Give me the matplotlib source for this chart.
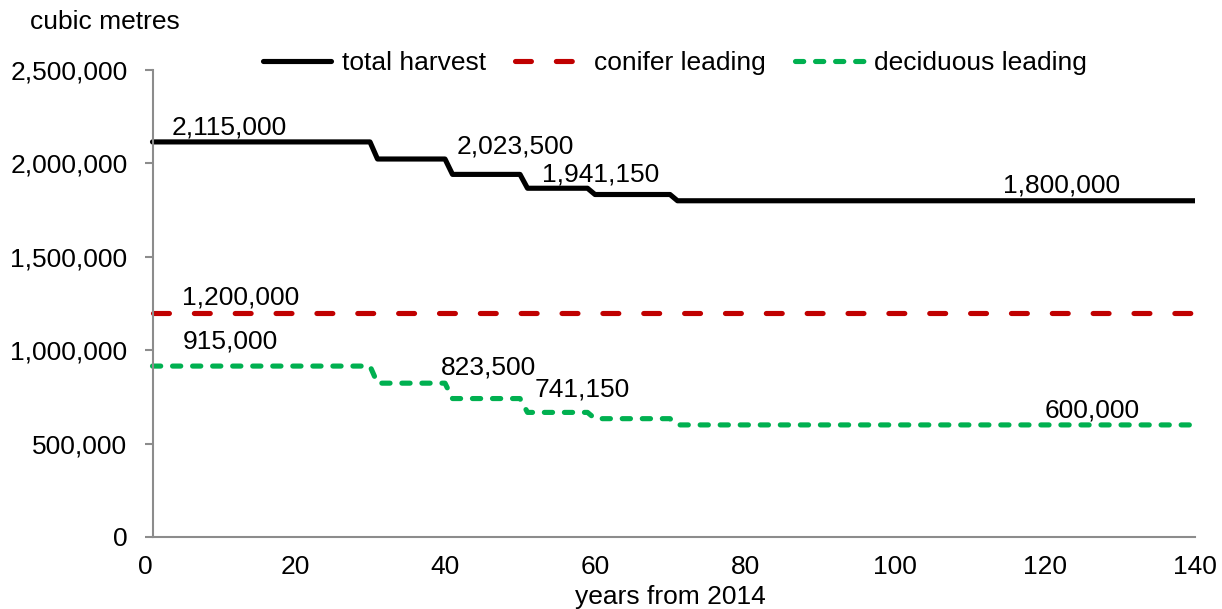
import numpy as np
import matplotlib
matplotlib.use("Agg")
import matplotlib.pyplot as plt
from matplotlib.ticker import FuncFormatter, MultipleLocator

plt.rcParams['font.family'] = ['Liberation Sans', 'DejaVu Sans']

# Annual harvest levels by period (cubic metres)
period_lengths = [30, 10, 10, 9, 11, 70]          # years in each period
total_levels = [2115000, 2023500, 1941150, 1867000, 1833500, 1800000]
conifer_levels = [1200000, 1200000, 1200000, 1200000, 1200000, 1200000]
deciduous_levels = [915000, 823500, 741150, 667000, 633500, 600000]

years = np.arange(1, sum(period_lengths) + 1)
total = np.repeat(total_levels, period_lengths)
conifer = np.repeat(conifer_levels, period_lengths)
deciduous = np.repeat(deciduous_levels, period_lengths)

# value labels: (levels, period index, x of label's left edge, vertical offset px)
label_specs = [
    (total_levels, 0, 3.6, 14),
    (total_levels, 1, 41.6, 13),
    (total_levels, 2, 53.0, 0),
    (total_levels, 5, 114.4, 15),
    (conifer_levels, 0, 4.9, 15),
    (deciduous_levels, 0, 5.1, 25),
    (deciduous_levels, 1, 39.5, 16),
    (deciduous_levels, 2, 52.0, 9),
    (deciduous_levels, 5, 120.0, 14),
]

W, H = 1222, 609
fig = plt.figure(figsize=(W / 100, H / 100), dpi=100)
ax = fig.add_axes([145 / W, (H - 537) / H, 1050 / W, 467 / H])

BLACK = '#000000'
RED = '#C00000'
GREEN = '#00B050'
AXIS_GREY = '#8C8C8C'
FS = 19

lw = 3.7
ax.plot(years, total, color=BLACK, lw=lw, solid_capstyle='round',
        solid_joinstyle='round', label='total harvest')
ax.plot(years, conifer, color=RED, lw=lw, dash_capstyle='round',
        dashes=(3.1, 4.85), label='conifer leading')
ax.plot(years, deciduous, color=GREEN, lw=lw, dash_capstyle='round',
        dash_joinstyle='round', dashes=(1.6, 2.3), label='deciduous leading')

for levels, idx, xleft, dy in label_specs:
    val = levels[idx]
    ax.annotate(f"{val:,}", xy=(xleft, val), xytext=(0, dy),
                textcoords='offset pixels', ha='left', va='center',
                fontsize=FS, color='black')

ax.set_xlim(0, 140)
ax.set_ylim(0, 2500000)
ax.xaxis.set_major_locator(MultipleLocator(20))
ax.yaxis.set_major_locator(MultipleLocator(500000))
ax.yaxis.set_major_formatter(FuncFormatter(lambda v, p: f"{int(v):,}"))

for s in ('top', 'right'):
    ax.spines[s].set_visible(False)
ax.spines['left'].set_position(('data', 1))
ax.spines['bottom'].set_bounds(1, 140)
for s in ('left', 'bottom'):
    ax.spines[s].set_color(AXIS_GREY)
    ax.spines[s].set_linewidth(1.5)

ax.tick_params(axis='y', length=6, width=1.5, color=AXIS_GREY,
               labelsize=FS, pad=12)
ax.tick_params(axis='x', length=0, labelsize=FS, pad=13)

ax.set_xlabel('years from 2014', fontsize=FS, labelpad=4)
fig.text(30 / W, 1 - 22 / H, 'cubic metres', fontsize=FS,
         ha='left', va='center')

fig.legend(loc='center', bbox_to_anchor=(675 / W, 1 - 63 / H), ncol=3,
           frameon=False, fontsize=FS, handlelength=2.6, handletextpad=0.4,
           columnspacing=1.1, borderpad=0)

fig.savefig('out.png', dpi=100)
